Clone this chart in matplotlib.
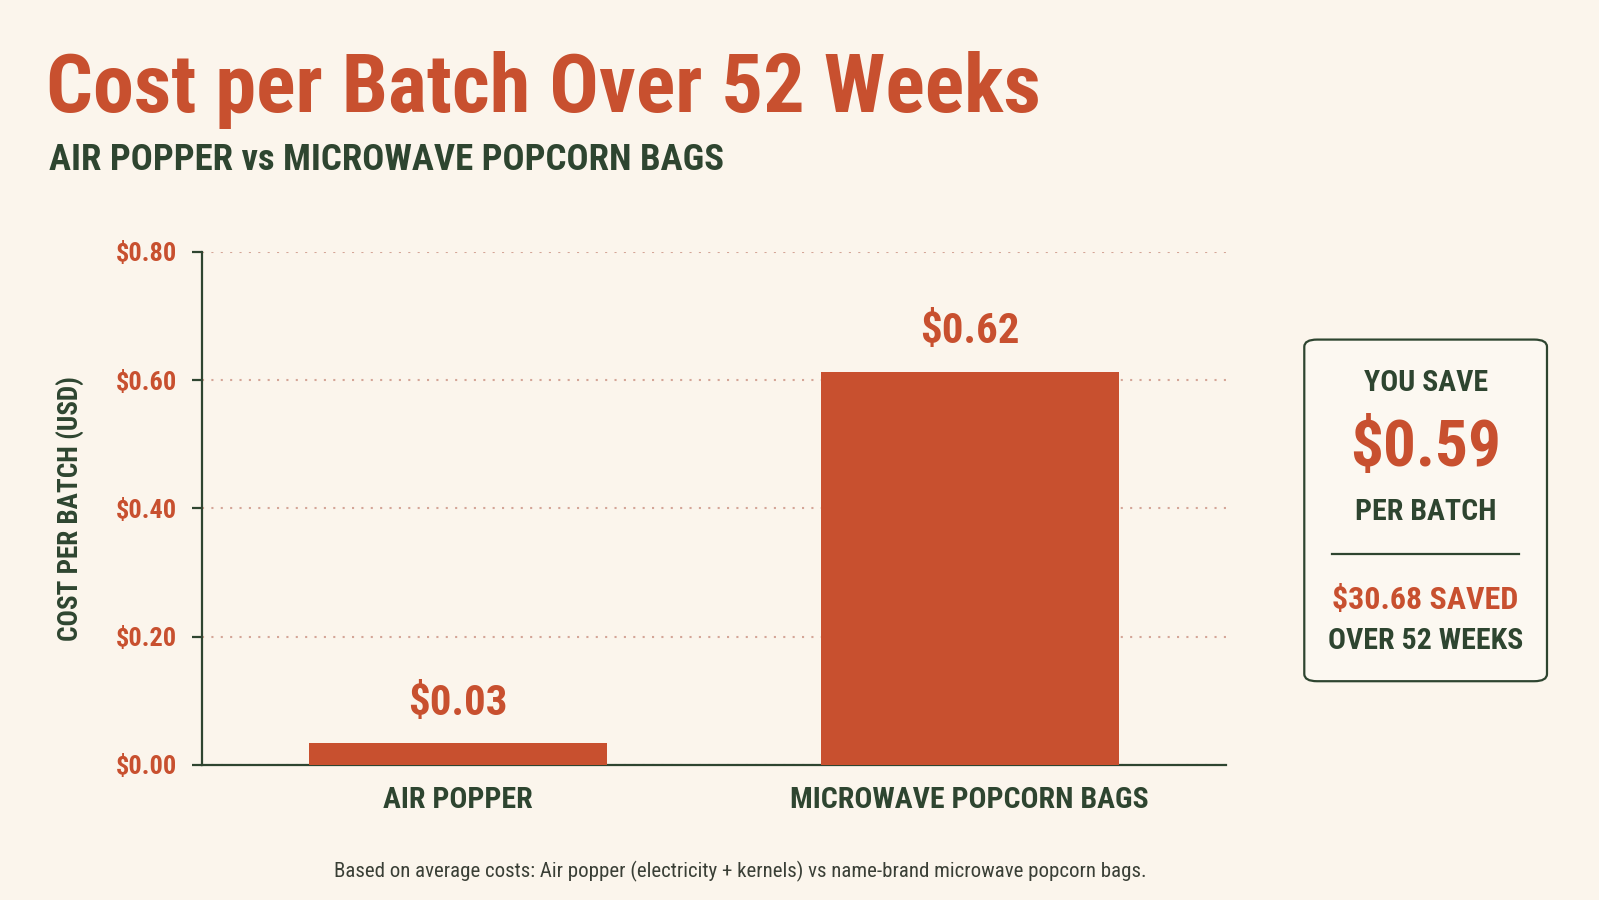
import numpy as np
import matplotlib
matplotlib.use("Agg")
import matplotlib.pyplot as plt
from matplotlib import font_manager
from matplotlib.patches import FancyBboxPatch
from matplotlib.ticker import FuncFormatter

# data
categories = ["AIR POPPER", "MICROWAVE POPCORN BAGS"]
costs = [0.034, 0.613]
cost_labels = ["$0.03", "$0.62"]
y_ticks = [0.0, 0.2, 0.4, 0.6, 0.8]
saving_per_batch = "$0.59"
saving_year = "$30.68 SAVED"

BG = "#FBF5EC"
ORANGE = "#C8502F"
GREEN = "#2E4530"
GRID = "#D4A597"

names = {f.name for f in font_manager.fontManager.ttflist}
FONT = "Roboto Condensed" if "Roboto Condensed" in names else "Roboto"
plt.rcParams["font.family"] = [FONT, "DejaVu Sans"]

# layout measured on a 1568 px wide view of the reference
VW = 1568
VH = VW * 900 / 1599
fig = plt.figure(figsize=(15.99, 9), dpi=100, facecolor=BG)


def fx(x):
    return x / VW


def fy(y):
    return 1 - y / VH


# titles
fig.text(fx(45), fy(110), "Cost per Batch Over 52 Weeks", color=ORANGE,
         fontsize=59.2, fontweight="bold", ha="left", va="baseline")
fig.text(fx(48), fy(167), "AIR POPPER vs MICROWAVE POPCORN BAGS", color=GREEN,
         fontsize=26.5, fontweight="bold", ha="left", va="baseline")

# main axes
ax = fig.add_axes([fx(198), fy(750), fx(1202) - fx(198), fy(247) - fy(750)])
ax.set_facecolor("none")
x = np.arange(len(categories))
ax.bar(x, costs, width=0.583, color=ORANGE, zorder=3)
for xi, c, lab in zip(x, costs, cost_labels):
    ax.annotate(lab, (xi, c), xytext=(0, 14), textcoords="offset points",
                ha="center", va="bottom", color=ORANGE, fontsize=31,
                fontweight="bold")

ax.set_xlim(-0.5, 1.5)
ax.set_ylim(0, 0.8)
ax.set_yticks(y_ticks)
ax.yaxis.set_major_formatter(FuncFormatter(lambda v, _: f"${v:.2f}"))
ax.set_xticks(x)
ax.set_xticklabels(categories)
ax.grid(axis="y", linestyle=(0, (1, 3.5)), color=GRID, linewidth=1.5, zorder=0)
ax.set_axisbelow(True)

for s in ["top", "right"]:
    ax.spines[s].set_visible(False)
for s in ["left", "bottom"]:
    ax.spines[s].set_color(GREEN)
    ax.spines[s].set_linewidth(1.6)

ax.tick_params(axis="y", direction="out", length=7, width=1.6, color=GREEN,
               pad=11, labelcolor=ORANGE, labelsize=19)
ax.tick_params(axis="x", length=0, pad=15, labelcolor=GREEN, labelsize=21.5)
for t in ax.get_yticklabels() + ax.get_xticklabels():
    t.set_fontweight("bold")

ax.set_ylabel("COST PER BATCH (USD)", color=GREEN, fontsize=19.5,
              fontweight="bold", labelpad=22)

# savings box
box = FancyBboxPatch((fx(1279), fy(668)), fx(1517) - fx(1279), fy(333) - fy(668),
                     boxstyle="round,pad=0,rounding_size=0.008",
                     transform=fig.transFigure, facecolor="#FCF8F1",
                     edgecolor=GREEN, linewidth=1.6)
fig.patches.append(box)
cx = fx(1398)
fig.text(cx, fy(376), "YOU SAVE", color=GREEN, fontsize=21.5, fontweight="bold",
         ha="center", va="center")
fig.text(cx, fy(440), saving_per_batch, color=ORANGE, fontsize=47,
         fontweight="bold", ha="center", va="center")
fig.text(cx, fy(502), "PER BATCH", color=GREEN, fontsize=21.5, fontweight="bold",
         ha="center", va="center")
fig.add_artist(plt.Line2D([fx(1306), fx(1490)], [fy(543), fy(543)],
                          color=GREEN, linewidth=1.6))
fig.text(cx, fy(588), saving_year, color=ORANGE, fontsize=23, fontweight="bold",
         ha="center", va="center")
fig.text(cx, fy(629), "OVER 52 WEEKS", color=GREEN, fontsize=21.5,
         fontweight="bold", ha="center", va="center")

fig.text(fx(726), fy(855),
         "Based on average costs: Air popper (electricity + kernels) vs "
         "name-brand microwave popcorn bags.",
         color="#3A3F36", fontsize=15, ha="center", va="center")

fig.savefig("out.png", dpi=100, facecolor=BG)
